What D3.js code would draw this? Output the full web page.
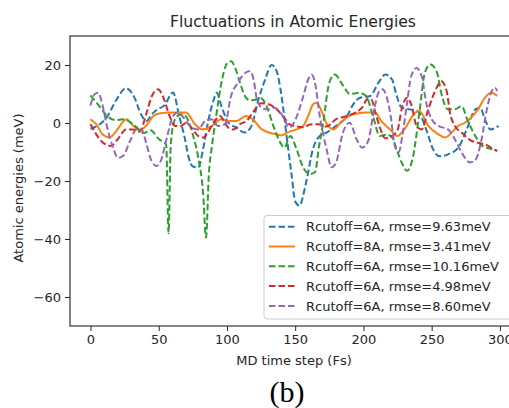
<!DOCTYPE html>
<html><head><meta charset="utf-8">
<script src="https://cdn.jsdelivr.net/npm/d3@7"></script>
<style>body{margin:0;background:#fff}svg{display:block}text{font-family:"DejaVu Sans",sans-serif;fill:#262626}</style>
</head><body>
<svg id="c" width="509" height="408"></svg>
<script>
const titleText = "Fluctuations in Atomic Energies";
const xLabel = "MD time step (Fs)";
const yLabel = "Atomic energies (meV)";
const captionText = "(b)";
const xTicks = [0, 50, 100, 150, 200, 250, 300];
const yTicks = [20, 0, -20, -40, -60];
const xDomain = [-15, 314];
const yDomain = [-70, 30];
const labels = ["Rcutoff=6A, rmse=9.63meV", "Rcutoff=8A, rmse=3.41meV", "Rcutoff=6A, rmse=10.16meV", "Rcutoff=6A, rmse=4.98meV", "Rcutoff=6A, rmse=8.60meV"];
const colors = ["#1f77b4", "#ff7f0e", "#2ca02c", "#d62728", "#9467bd"];
const dashed = [true, false, true, true, true];

// [time step, energy]
const blueSeries = [[0,-2],[5,-1],[12,2],[19,8],[26,12],[32,9],[37,3],[41,0.7],[45,3],[49,4.7],[54,6],[60.5,10.5],[65,2.4],[69,-5],[72,-12],[75,-15],[79,-15.3],[82.5,-9],[86,0],[90,7.6],[92.5,10.4],[96,5.8],[101,0.1],[107,-1.6],[113,-3.3],[118,-1],[123,8],[128,15],[132.7,20],[136,18.4],[140,9.3],[143.7,-4.5],[147.4,-18],[150,-27],[153,-28.5],[158,-20.5],[163,-9],[168,-4.5],[173,-3.3],[180,-1],[188,2.4],[192.5,6.4],[197.5,8.7],[205,9.3],[211,13.9],[216,16.7],[221,15],[224,10],[228,5.3],[234,4.7],[240,4],[246,-2.2],[251,-9],[256,-11.5],[262,-10.8],[269.5,-8.5],[275.7,-2.2],[282,4.7],[285.5,5.3],[289,1.3],[293,-2.2],[299,-1]];
const orangeSeries = [[0,1.3],[4.4,-0.5],[9,-4],[14,-5],[19,-2.7],[24,0.5],[26.4,1.3],[31,-0.8],[36,-2.5],[41,-0.8],[46,2.4],[51,3.4],[58,3.6],[65.5,3.6],[70,3.6],[76.5,-0.4],[82,-2.2],[88,-1.3],[96,1.3],[101,0.7],[107,0.7],[114,2.4],[119,1.3],[125,-2],[130,-3.2],[136,-3.9],[140,-4.3],[144,-3.3],[151,-2.2],[156,-1],[160,3],[163,6.4],[165.5,7],[169,4.5],[173,-0.2],[178,-2.2],[184,0.5],[192.5,3],[202,3.6],[208.5,3.6],[213,0.7],[219.5,-2.2],[225,-4.5],[230,-2.2],[238,3.6],[241,4.1],[247.5,-1],[255,-3.9],[260,-5],[264.6,-3.3],[269.5,-1],[274.4,0.1],[279,1.9],[284,4.7],[289,8.7],[294,10.4],[298,9.3]];
const greenSeries = [[0,9.5],[7,5.5],[12,2.5],[18,1],[24,1.3],[30,0],[35,-2],[39,-3.5],[44,-2.5],[50,-5.5],[55.5,-7.5],[57.2,-38],[58.8,-8],[61,0],[64,2.5],[68,3],[72,0.5],[75,-4],[79,-12],[82.5,-24],[84.7,-39.5],[86.7,-18],[89,-8],[92,2],[96,14],[100,20.5],[103,21.3],[106,19],[109.5,14],[113.5,9],[117,7.8],[122,8.1],[125,8.5],[129,5.8],[134,-1],[139,-6.7],[142,-8.5],[146.5,-4.5],[151,-9],[156,-15.5],[161,-17.6],[164.5,-17],[167.5,-8],[170.5,0],[175,13.9],[179,16.7],[185,13],[190,10],[197,10.4],[202,9.3],[207,2.4],[212,-4.5],[217,-4],[221,-5],[225,-10],[228,-13.6],[232,-16.5],[236.5,-11.3],[241,3.6],[245,17.3],[249,20.2],[254,17.3],[257,10.4],[262,4.7],[267,4.7],[272,5.8],[276,1.3],[282,-4.5],[287,-7.9],[294,-9],[298,-9.6]];
const redSeries = [[0,-0.4],[4.4,-4],[9,-6.7],[15,-7.9],[20,-5.6],[26,-2.2],[31,-2.2],[36,-3],[41,3.3],[45,9.3],[49.5,11.6],[53,9.3],[58,2.4],[62,-1],[66,-1],[70,0],[74,-1.6],[79,-4.5],[82.6,-5],[86,-3.3],[91,0.7],[95,2.4],[98,0.5],[101,-1.6],[105,-2.2],[109.5,-0.4],[114.4,0.7],[119,3.6],[125,6.8],[131,6.4],[136.4,4.7],[141,2.4],[146,-0.5],[151,-1.2],[156,-1.5],[161,-0.5],[167,-0.4],[173,-1.2],[180,1.3],[188,2.4],[194,3.6],[199,5.3],[203,8.3],[206,8],[208.5,4],[212,-1.5],[216,-5.3],[220.7,-4.5],[225,-2.5],[228,4.7],[232,8.7],[235,6.4],[239,-1],[242.7,-2.2],[247.5,4.7],[253.7,12.2],[257,14.4],[261,11],[263.4,3.6],[267,-1],[272,-3.3],[278,-5.8],[285,-7],[290,-7.5],[295,-9],[298,-9.6]];
const purpleSeries = [[0,6],[3,9.9],[5.6,10.4],[9,5.8],[12,-1],[16.6,-8.5],[20,-12],[24,-11.3],[29,-6.2],[33.7,-2.2],[37.4,-2.2],[41,-7.3],[44.7,-13],[48.4,-14.8],[52,-12.5],[55.7,-5.6],[60.6,2.4],[64,3.6],[68,2],[72,-0.5],[76,-2],[79,-2.2],[84,0.7],[88.7,1.3],[93.5,-1],[98.5,-0.4],[103,9.3],[108,13.9],[112,16.7],[117,17.9],[119.5,15],[122,8.1],[125.4,5.3],[130,4.7],[135,5.3],[140,3],[146,-1.5],[150,1],[156,9.3],[159.5,15],[162,16.7],[164.5,13.9],[168,2.4],[173,-9],[176.7,-15.3],[180,-13.6],[185,-3.3],[190,0.1],[195,-5.6],[199,-8.5],[203.5,-6.2],[207,2.4],[211,10.4],[214,11.6],[217,9],[220,2.4],[223,-7.9],[226,-10],[228.5,-4.5],[232,7],[235,16.1],[239,19],[242.7,16.1],[246,7],[250,1.3],[255,-1],[262,-2.2],[267,-5.6],[272,-10.2],[278,-13.6],[281.7,-13],[286.6,-5.6],[290,3.6],[294,11],[296.4,12.2],[298,11]];
const allSeries = [blueSeries, orangeSeries, greenSeries, redSeries, purpleSeries];

const svg = d3.select("#c");
const L = 70, T = 36, R = 519, B = 326;
const x = d3.scaleLinear().domain(xDomain).range([L, R]);
const y = d3.scaleLinear().domain(yDomain).range([B, T]);

svg.append("defs").append("clipPath").attr("id","clip")
  .append("rect").attr("x",L).attr("y",T).attr("width",R-L).attr("height",B-T);

const line = d3.line().x(d=>x(d[0])).y(d=>y(d[1])).curve(d3.curveMonotoneX);
const g = svg.append("g").attr("clip-path","url(#clip)");
allSeries.forEach((s,i)=>{
  g.append("path").datum(s).attr("d",line).attr("fill","none")
   .attr("stroke",colors[i]).attr("stroke-width",2)
   .attr("stroke-dasharray", dashed[i] ? "6.5,3" : null);
});

// spines
svg.append("rect").attr("x",L).attr("y",T).attr("width",R-L).attr("height",B-T)
  .attr("fill","none").attr("stroke","#222").attr("stroke-width",1.1);

const xAxis = svg.append("g").attr("transform",`translate(0,${B})`)
  .call(d3.axisBottom(x).tickValues(xTicks).tickSize(5).tickPadding(4).tickFormat(d3.format("d")));
const yAxis = svg.append("g").attr("transform",`translate(${L},0)`)
  .call(d3.axisLeft(y).tickValues(yTicks).tickSize(5).tickPadding(4).tickFormat(d=>d<0?"\u2212"+Math.abs(d):d));
[xAxis,yAxis].forEach(a=>{
  a.select(".domain").remove();
  a.selectAll("line").attr("stroke","#222");
  a.selectAll("text").style("font-family","DejaVu Sans").style("font-size","13px").attr("fill","#262626");
});

svg.append("text").attr("x",293).attr("y",27).attr("text-anchor","middle")
  .style("font-size","15.6px").text(titleText);
svg.append("text").attr("x",294).attr("y",365).attr("text-anchor","middle")
  .style("font-size","13px").text(xLabel);
svg.append("text").attr("transform","translate(23,188) rotate(-90)").attr("text-anchor","middle")
  .style("font-size","13px").text(yLabel);
svg.append("text").attr("x",287).attr("y",402).attr("text-anchor","middle")
  .style("font-family","'Liberation Serif','Times New Roman',serif").style("font-size","30px").style("fill","#000").text(captionText);

// legend
const lg = svg.append("g");
lg.append("rect").attr("x",264).attr("y",215.5).attr("width",248).attr("height",103.5).attr("rx",3)
  .attr("fill","#fff").attr("fill-opacity",0.85).attr("stroke","#cccccc").attr("stroke-width",1);
labels.forEach((lab,i)=>{
  const yy = 226.7 + i*19.8;
  lg.append("line").attr("x1",269).attr("x2",295).attr("y1",yy).attr("y2",yy)
    .attr("stroke",colors[i]).attr("stroke-width",2).attr("stroke-dasharray", dashed[i] ? "6.5,3" : null);
  lg.append("text").attr("x",306).attr("y",yy+4.6).style("font-size","13px").text(lab);
});
</script>
</body></html>
